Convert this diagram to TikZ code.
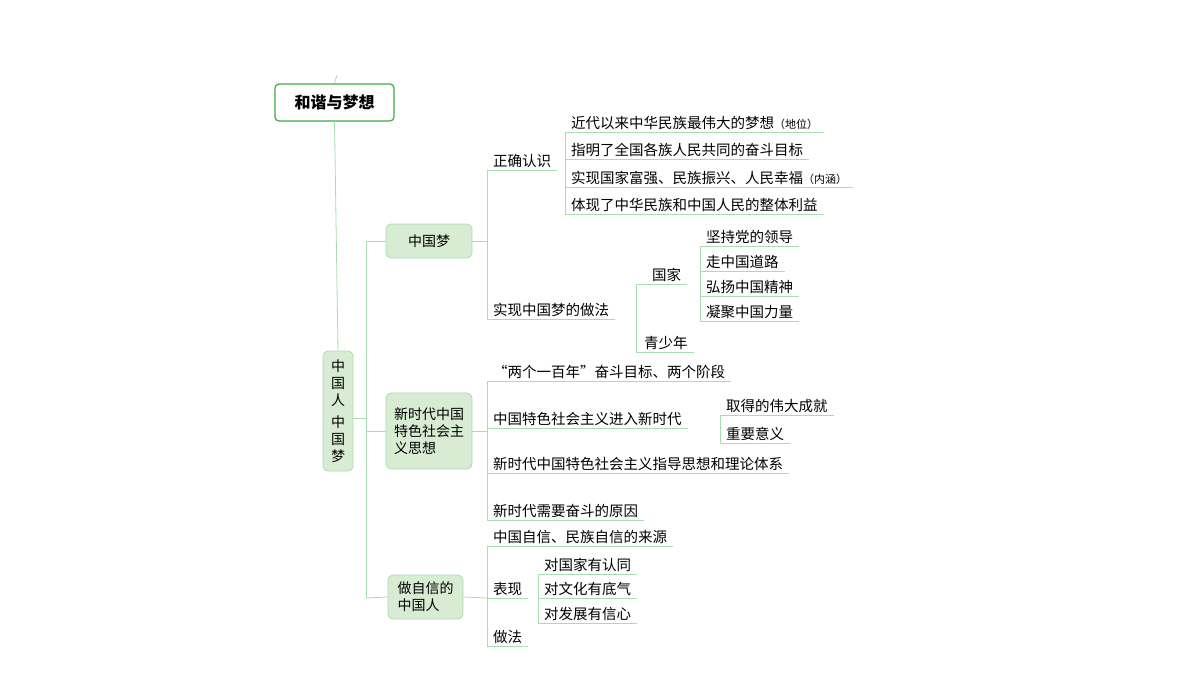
\documentclass[tikz,border=0pt]{standalone}
\usepackage{fontspec}
\setmainfont{Noto Sans CJK SC}
\begin{document}
\begin{tikzpicture}[x=1pt,y=-1pt,
  lc/.style={draw=lgreen,line width=0.8pt},
  leaf/.style={anchor=south west,inner xsep=6pt,inner ysep=2.5pt,font=\fontsize{14.5}{16}\selectfont},
  topic/.style={draw=lgreen,fill=bfill,rounded corners=5pt,line width=0.8pt,font=\fontsize{14}{17}\selectfont,align=left},
]
\definecolor{lgreen}{HTML}{A8DDB0}
\definecolor{bfill}{HTML}{D7ECD3}
\definecolor{tgreen}{HTML}{3DAA48}
\useasboundingbox (0,0) rectangle (1200,675);
\newcommand\lf[4]{\node[leaf] (#1) at (#2,#3) {#4}; \draw[lc] (#1.south west) -- (#1.south east);}
% title and root
\node[draw=tgreen,line width=1.2pt,fill=white,rounded corners=4pt,minimum width=119pt,minimum height=37pt,font=\bfseries\fontsize{16}{18}\selectfont] (title) at (334.5,102.5) {和谐与梦想};
\node[topic,align=center,minimum width=30pt,minimum height=120pt,inner xsep=1pt,font=\fontsize{14}{17}\selectfont] (root) at (338,411) {中\\国\\人\\[5pt]中\\国\\梦};
\draw[lc] (337,75) -- (title.north);
\draw[lc] (title.south) -- (root.north);
% topics
\node[topic,minimum width=86pt,minimum height=34pt,align=center] (t1) at (429,241) {中国梦};
\node[topic,minimum width=86pt,minimum height=76pt,inner xsep=3pt] (t2) at (429,431) {新时代中国\\特色社会主\\义思想};
\node[topic,minimum width=75pt,minimum height=44pt] (t3) at (425.5,597) {做自信的\\中国人};
\coordinate (v1) at (366,241); \coordinate (v3) at (366,598);
\draw[lc] (root.east |- 0,418) -- (366,418);
\draw[lc] (v1) -- (v3);
\draw[lc] (v1) -- (t1.west); \draw[lc] (366,431) -- (t2.west); \draw[lc] (v3) -- (t3.west);
% branch 1
\lf{a1}{487}{170}{正确认识}
\lf{a2}{487}{319}{实现中国梦的做法}
\draw[lc] (t1.east) -- (487,241); \draw[lc] (a1.south west) -- (a2.south west);
\lf{b1}{565}{132}{近代以来中华民族最伟大的梦想\fontsize{11}{13}\selectfont（地位）}
\lf{b2}{565}{159}{指明了全国各族人民共同的奋斗目标}
\lf{b3}{565}{187}{实现国家富强、民族振兴、人民幸福\fontsize{11}{13}\selectfont（内涵）}
\lf{b4}{565}{214}{体现了中华民族和中国人民的整体利益}
\draw[lc] (b1.south west) -- (b4.south west);
\lf{c1}{636}{284}{\hspace{10pt}国家}
\lf{c2}{636}{352}{\hspace{2pt}青少年}
\draw[lc] (c1.south west) -- (c2.south west);
\lf{d1}{700}{246}{坚持党的领导}
\lf{d2}{700}{271}{走中国道路}
\lf{d3}{700}{296}{弘扬中国精神}
\lf{d4}{700}{321}{凝聚中国力量}
\draw[lc] (d1.south west) -- (d4.south west);
% branch 2
\lf{e1}{487}{381}{“两个一百年”奋斗目标、两个阶段}
\lf{e2}{487}{428}{中国特色社会主义进入新时代}
\lf{e3}{487}{473}{新时代中国特色社会主义指导思想和理论体系}
\lf{e4}{487}{520}{新时代需要奋斗的原因}
\draw[lc] (t2.east) -- (487,431); \draw[lc] (e1.south west) -- (e4.south west);
\lf{f1}{720}{415}{取得的伟大成就}
\lf{f2}{720}{443}{重要意义}
\draw[lc] (f1.south west) -- (f2.south west);
% branch 3
\lf{g1}{487}{546}{中国自信、民族自信的来源}
\lf{g2}{487}{598}{表现}
\lf{g3}{487}{646}{做法}
\draw[lc] (t3.east) -- (487,598); \draw[lc] (g1.south west) -- (g3.south west);
\lf{h1}{538}{574}{对国家有认同}
\lf{h2}{538}{598}{对文化有底气}
\lf{h3}{538}{623}{对发展有信心}
\draw[lc] (h1.south west) -- (h3.south west);
\end{tikzpicture}
\end{document}
